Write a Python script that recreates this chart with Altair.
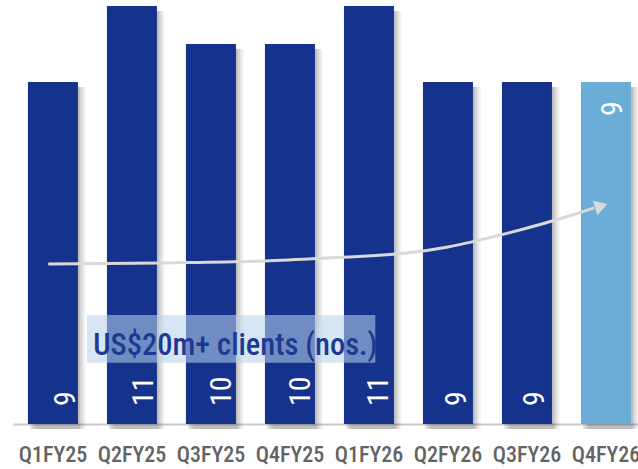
import altair as alt
import pandas as pd

# ---- data ----
quarters = ["Q1FY25", "Q2FY25", "Q3FY25", "Q4FY25", "Q1FY26", "Q2FY26", "Q3FY26", "Q4FY26"]
clients = [9, 11, 10, 10, 11, 9, 9, 9]
highlight = [False, False, False, False, False, False, False, True]

# annotation arrow (x in bar-index units, y in value units)
arrow_x = [-0.06, 1.39, 2.68, 3.46, 4.48, 5.0, 5.77, 6.54, 6.85]
arrow_y = [4.21, 4.24, 4.29, 4.37, 4.50, 4.66, 5.03, 5.48, 5.69]
head_x = [6.94]
head_y = [5.74]

# label box
box_x = [0.43]
box_x2 = [4.08]
box_y = [2.87]
box_y2 = [1.61]
box_text = ["US$20m+ clients (nos.)"]
text_x = [0.51]
text_y = [1.82]

FONT = "Roboto Condensed, DejaVu Sans Condensed, Liberation Sans Narrow, Arial Narrow, Roboto, sans-serif"
DARK = "#15328c"
LIGHT = "#6aaed8"

df = pd.DataFrame({"q": quarters, "v": clients, "hl": highlight})
df["zero"] = 0

YMAX = 11.16
yscale = alt.Scale(domain=[0, YMAX], nice=False, zero=True)
xband = alt.Scale(domain=quarters, paddingInner=0.367, paddingOuter=0.139, align=0.68)
xq = alt.Scale(domain=[-0.506, 7.405], nice=False, zero=False)

base = alt.Chart(df)

xenc = alt.X("q:N", scale=xband, sort=quarters,
             axis=alt.Axis(title=None, labelAngle=0, labelFont=FONT, labelFontSize=22,
                           labelColor="#636363", ticks=False, domainColor="#c8c8c8",
                           domainWidth=2, labelPadding=20, labelFontWeight=500))

shadows = []
for off, op in [(2, 0.10), (4, 0.08), (6, 0.06), (8, 0.04)]:
    shadows.append(
        base.mark_bar(color="#000000", opacity=op, xOffset=off, yOffset=5, y2Offset=0).encode(
            x=alt.X("q:N", scale=xband, sort=quarters, axis=None),
            y=alt.Y("v:Q", scale=yscale, axis=None),
        )
    )

bars = base.mark_bar().encode(
    x=xenc,
    y=alt.Y("v:Q", scale=yscale, axis=None),
    color=alt.Color("hl:N", scale=alt.Scale(domain=[False, True], range=[DARK, LIGHT]), legend=None),
)

labels_base = base.transform_filter("!datum.hl").mark_text(
    angle=270, align="left", baseline="middle", dx=18, color="white", font=FONT, fontSize=30
).encode(
    x=alt.X("q:N", scale=xband, sort=quarters, axis=None),
    y=alt.Y("zero:Q", scale=yscale, axis=None),
    text="v:Q",
)

labels_top = base.transform_filter("datum.hl").mark_text(
    angle=270, align="right", baseline="middle", dx=-19, color="white", font=FONT, fontSize=30
).encode(
    x=alt.X("q:N", scale=xband, sort=quarters, axis=None),
    y=alt.Y("v:Q", scale=yscale, axis=None),
    text="v:Q",
)

arrow_df = pd.DataFrame({"x": arrow_x, "y": arrow_y, "o": list(range(len(arrow_x)))})
arrow = alt.Chart(arrow_df).mark_line(color="#d9d9d9", strokeWidth=3, interpolate="monotone").encode(
    x=alt.X("x:Q", scale=xq, axis=None),
    y=alt.Y("y:Q", scale=yscale, axis=None),
    order="o:Q",
)

head = alt.Chart(pd.DataFrame({"x": head_x, "y": head_y})).mark_point(
    shape="triangle-right", filled=True, color="#d9d9d9", opacity=1, size=220, angle=342
).encode(
    x=alt.X("x:Q", scale=xq, axis=None),
    y=alt.Y("y:Q", scale=yscale, axis=None),
)

box = alt.Chart(pd.DataFrame({"x": box_x, "x2": box_x2, "y": box_y, "y2": box_y2})).mark_rect(
    color="#b8d3ed", opacity=0.56
).encode(
    x=alt.X("x:Q", scale=xq, axis=None),
    x2="x2:Q",
    y=alt.Y("y:Q", scale=yscale, axis=None),
    y2="y2:Q",
)

boxtext = alt.Chart(pd.DataFrame({"x": text_x, "y": text_y, "t": box_text})).mark_text(
    align="left", baseline="alphabetic", color="#1d3a93", font=FONT, fontSize=30.5, fontWeight=500
).encode(
    x=alt.X("x:Q", scale=xq, axis=None),
    y=alt.Y("y:Q", scale=yscale, axis=None),
    text="t:N",
)

chart = alt.layer(
    *shadows, bars, labels_base, labels_top, arrow, head, box, boxtext
).resolve_scale(x="independent").properties(
    width=625, height=424,
    autosize=alt.AutoSizeParams(type="none"),
    padding={"left": 13, "top": 0, "right": 0, "bottom": 45},
    background="white",
).configure_view(stroke=None)

chart.save("out.html", embed_options={"renderer": "svg", "actions": False})
